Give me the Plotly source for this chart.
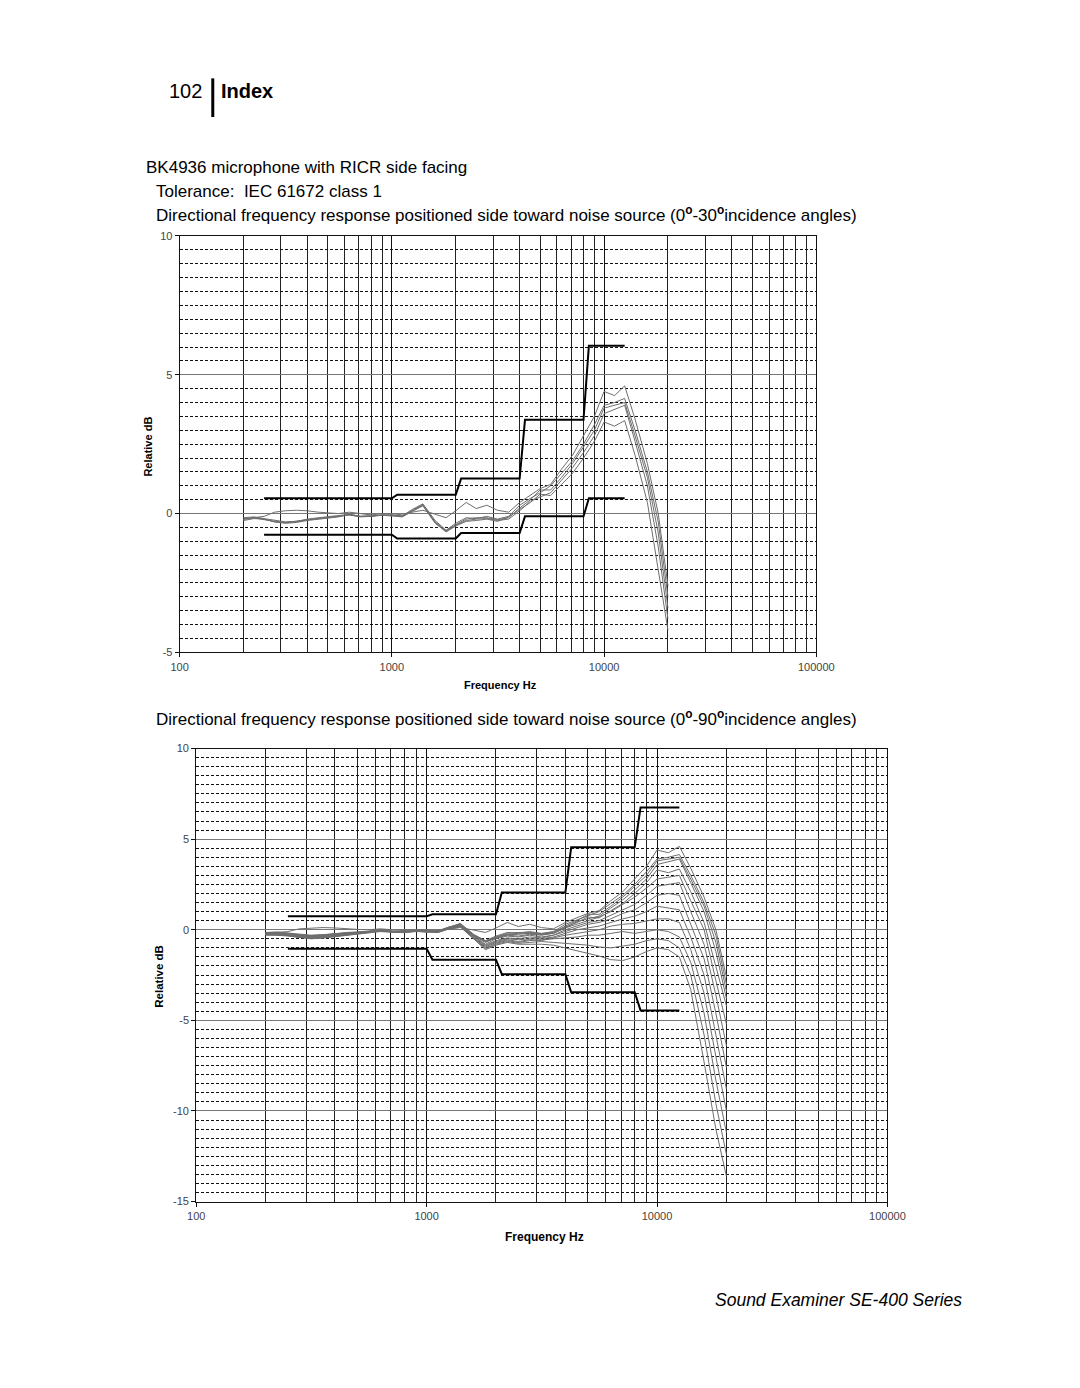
import plotly.graph_objects as go

# ---- data -------------------------------------------------------------
freq_hz = [200, 224, 250, 280, 315, 355, 400, 450, 500, 560, 630, 710, 800, 900,
           1000, 1120, 1250, 1400, 1600, 1800, 2000, 2240, 2500, 2800, 3150,
           3550, 4000, 4500, 5000, 5600, 6300, 7100, 8000, 9000, 10000, 11200,
           12500, 14000, 16000, 18000, 20000]

# relative response (dB) per incidence angle
resp_0 = [-0.2, -0.15, -0.1, 0.05, 0.1, 0.12, 0.1, 0.05, 0.02, 0.0, 0.05, 0.0, -0.05, 0.0, 0.0,
          -0.05, 0.05, 0.12, -0.02, -0.15, 0.1, 0.4, 0.18, 0.3, 0.12,
          0.05, 0.4, 0.65, 0.9, 1.05, 1.6, 2.1, 2.8, 3.5, 4.4, 4.25, 4.6, 3.4, 1.8, 0.0, -2.6]
resp_7 = [-0.25, -0.18, -0.2, -0.3, -0.35, -0.32, -0.25, -0.2, -0.15, -0.12, -0.02, -0.1, -0.08, -0.05, -0.05,
          -0.08, 0.15, 0.35, -0.25, -0.6, -0.35, -0.15, -0.18, -0.1, -0.2,
          -0.1, 0.3, 0.55, 0.75, 1.0, 1.45, 1.9, 2.5, 3.2, 3.9, 4.0, 4.15, 3.0, 1.5, -0.3, -3.0]
resp_15 = [-0.2, -0.15, -0.22, -0.28, -0.33, -0.3, -0.22, -0.18, -0.15, -0.1, -0.05, -0.12, -0.1, -0.04, -0.06,
           -0.1, 0.12, 0.33, -0.3, -0.62, -0.4, -0.2, -0.15, -0.15, -0.22,
           -0.15, 0.2, 0.5, 0.85, 0.85, 1.3, 1.8, 2.4, 3.0, 3.8, 3.9, 4.0, 2.8, 1.3, -0.7, -3.4]
resp_22 = [-0.15, -0.12, -0.18, -0.25, -0.3, -0.28, -0.2, -0.15, -0.12, -0.08, -0.03, -0.1, -0.08, -0.05, -0.05,
           -0.1, 0.1, 0.3, -0.32, -0.65, -0.42, -0.25, -0.2, -0.18, -0.25,
           -0.2, 0.1, 0.45, 0.6, 0.75, 1.2, 1.65, 2.2, 2.8, 3.6, 3.75, 3.9, 2.6, 1.0, -1.2, -3.8]
resp_30 = [-0.2, -0.15, -0.2, -0.3, -0.32, -0.28, -0.22, -0.18, -0.14, -0.1, -0.05, -0.1, -0.1, -0.06, -0.08,
           -0.12, 0.08, 0.28, -0.35, -0.66, -0.45, -0.28, -0.25, -0.2, -0.28,
           -0.12, 0.15, 0.4, 0.7, 0.65, 1.05, 1.45, 2.0, 2.6, 3.3, 3.15, 3.35, 2.1, 0.4, -2.1, -4.2]
resp_37 = [-0.22, -0.2, -0.25, -0.35, -0.4, -0.35, -0.28, -0.22, -0.15, -0.1, 0.0, -0.08, -0.1, -0.05, -0.08,
           -0.1, 0.15, 0.3, -0.3, -0.7, -0.45, -0.3, -0.35, -0.25, -0.3,
           -0.2, 0.1, 0.3, 0.5, 0.7, 1.0, 1.4, 1.8, 2.3, 2.8, 2.9, 3.0, 1.6, 0.0, -2.8, -5.2]
resp_45 = [-0.25, -0.22, -0.28, -0.38, -0.42, -0.36, -0.3, -0.22, -0.16, -0.12, -0.02, -0.1, -0.1, -0.06, -0.1,
           -0.1, 0.1, 0.3, -0.35, -0.8, -0.5, -0.35, -0.4, -0.3, -0.4,
           -0.3, 0.0, 0.2, 0.4, 0.5, 0.8, 1.1, 1.4, 1.9, 2.4, 2.5, 2.6, 1.0, -0.8, -3.6, -6.4]
resp_52 = [-0.2, -0.2, -0.25, -0.35, -0.4, -0.38, -0.3, -0.25, -0.18, -0.12, -0.04, -0.1, -0.12, -0.05, -0.1,
           -0.05, 0.15, 0.25, -0.35, -0.85, -0.6, -0.45, -0.5, -0.4, -0.45,
           -0.3, -0.1, 0.1, 0.3, 0.4, 0.6, 0.9, 1.1, 1.5, 1.9, 2.0, 1.9, 0.3, -1.6, -4.6, -7.6]
resp_60 = [-0.18, -0.2, -0.22, -0.32, -0.38, -0.35, -0.28, -0.22, -0.16, -0.1, -0.02, -0.08, -0.1, -0.04, -0.08,
           -0.1, 0.1, 0.25, -0.4, -0.9, -0.65, -0.5, -0.55, -0.5, -0.5,
           -0.4, -0.2, 0.0, 0.1, 0.2, 0.4, 0.6, 0.75, 1.0, 1.3, 1.2, 1.1, -0.4, -2.5, -5.8, -8.8]
resp_67 = [-0.25, -0.25, -0.3, -0.4, -0.45, -0.4, -0.32, -0.26, -0.2, -0.14, -0.05, -0.12, -0.12, -0.06, -0.1,
           -0.1, 0.1, 0.2, -0.45, -0.95, -0.7, -0.55, -0.65, -0.55, -0.6,
           -0.45, -0.3, -0.2, -0.1, 0.0, 0.2, 0.3, 0.35, 0.5, 0.6, 0.6, 0.4, -1.1, -3.5, -7.0, -10.0]
resp_75 = [-0.22, -0.25, -0.28, -0.38, -0.44, -0.42, -0.34, -0.28, -0.2, -0.15, -0.06, -0.1, -0.14, -0.08, -0.12,
           -0.15, 0.05, 0.2, -0.45, -1.0, -0.75, -0.6, -0.7, -0.6, -0.55,
           -0.5, -0.45, -0.4, -0.3, -0.3, -0.2, -0.1, -0.2, -0.1, 0.0, -0.1, -0.4, -1.8, -4.6, -8.3, -11.2]
resp_82 = [-0.28, -0.28, -0.32, -0.42, -0.48, -0.44, -0.36, -0.3, -0.22, -0.16, -0.08, -0.12, -0.14, -0.08, -0.12,
           -0.1, 0.1, 0.2, -0.5, -1.05, -0.8, -0.65, -0.75, -0.7, -0.65,
           -0.7, -0.75, -0.8, -0.85, -0.95, -1.0, -0.9, -0.8, -0.6, -0.5, -0.6, -1.0, -2.5, -5.8, -9.6, -12.4]
resp_90 = [-0.3, -0.3, -0.35, -0.44, -0.5, -0.46, -0.38, -0.32, -0.24, -0.18, -0.1, -0.14, -0.16, -0.1, -0.14,
           -0.15, 0.05, 0.15, -0.5, -1.1, -0.85, -0.7, -0.8, -0.8, -0.8,
           -0.85, -1.0, -1.15, -1.3, -1.45, -1.65, -1.7, -1.5, -1.2, -1.0, -1.1, -1.5, -3.3, -7.3, -11.0, -13.6]

curves_0_30 = [resp_0, resp_7, resp_15, resp_22, resp_30]
curves_0_90 = curves_0_30 + [resp_37, resp_45, resp_52, resp_60, resp_67, resp_75, resp_82, resp_90]

# tolerance bands (IEC 61672 class 1)
tol_edges = [250, 1000, 2000, 4000, 8000, 12500]
tol30_upper = [0.55, 0.68, 1.26, 3.38, 6.05]
tol30_lower = [-0.76, -0.9, -0.7, -0.1, 0.55]
tol90_upper = [0.75, 0.85, 2.05, 4.55, 6.75]
tol90_lower = [-1.05, -1.65, -2.45, -3.45, -4.45]

x_ticks = [100, 1000, 10000, 100000]
x_minor = [m * d for d in (100, 1000, 10000) for m in range(2, 10)]
y_ticks_top = [-5, 0, 5, 10]
y_ticks_bot = [-15, -10, -5, 0, 5, 10]

# ---- layout helpers ------------------------------------------------------
W, H = 1080, 1388


def px(x, y):
    return x / W, 1 - y / H


def step_line(edges, levels):
    xs, ys = [edges[0]], [levels[0]]
    for i in range(1, len(levels)):
        xs += [edges[i], edges[i] * 1.06]
        ys += [levels[i - 1], levels[i]]
    xs.append(edges[-1])
    ys.append(levels[-1])
    return xs, ys


FONT = "Liberation Sans, Arial, sans-serif"
fig = go.Figure()

for xa, ya, curves, up, lo in (("x", "y", curves_0_30, tol30_upper, tol30_lower),
                               ("x2", "y2", curves_0_90, tol90_upper, tol90_lower)):
    for c in curves:
        fig.add_trace(go.Scatter(x=freq_hz, y=c, mode="lines", xaxis=xa, yaxis=ya,
                                 line=dict(color="#6e6e6e", width=1), showlegend=False,
                                 hoverinfo="skip"))
    for lv in (up, lo):
        tx, ty = step_line(tol_edges, lv)
        fig.add_trace(go.Scatter(x=tx, y=ty, mode="lines", xaxis=xa, yaxis=ya,
                                 line=dict(color="black", width=2), showlegend=False,
                                 hoverinfo="skip"))

# plot areas (page pixels)
top_l, top_b = px(175, 652)
top_r, top_t = px(828, 232)
bot_l, bot_b = px(192, 1206)
bot_r, bot_t = px(901, 749)

xcommon = dict(type="log", range=[2, 5], tickvals=x_ticks, ticktext=[str(v) for v in x_ticks],
               showgrid=True, gridcolor="#111", gridwidth=1, showline=True, linecolor="#111",
               mirror=True, ticks="outside", ticklen=4, tickcolor="#111",
               tickfont=dict(family=FONT, size=11, color="#444"), zeroline=False,
               minor=dict(tickvals=x_minor, showgrid=True, gridcolor="#222", gridwidth=1,
                          ticks=""))
ycommon = dict(showgrid=True, gridcolor="#777", gridwidth=1, showline=True,
               linecolor="#111", mirror=True, ticks="outside", ticklen=4, tickcolor="#111",
               tickfont=dict(family=FONT, size=11, color="#444"), zeroline=False,
               minor=dict(dtick=0.5, showgrid=True, gridcolor="#111", griddash="3px,2px",
                          gridwidth=1, ticks=""))

fig.update_layout(
    width=W, height=H, margin=dict(l=0, r=0, t=0, b=0),
    paper_bgcolor="white", plot_bgcolor="white",
    xaxis=dict(xcommon, domain=[top_l, top_r], anchor="y"),
    yaxis=dict(ycommon, domain=[top_b, top_t], range=[-5, 10], anchor="x",
               tickvals=y_ticks_top, ticktext=[str(v) for v in y_ticks_top]),
    xaxis2=dict(xcommon, domain=[bot_l, bot_r], anchor="y2"),
    yaxis2=dict(ycommon, domain=[bot_b, bot_t], range=[-15, 10], anchor="x2",
                tickvals=y_ticks_bot, ticktext=[str(v) for v in y_ticks_bot]),
)

anns = []


def text(x, y, s, size, xanchor="left", bold=False, italic=False, angle=0):
    ax, ay = px(x, y)
    anns.append(dict(x=ax, y=ay, xref="paper", yref="paper", text=s, showarrow=False,
                     xanchor=xanchor, yanchor="middle", textangle=angle,
                     font=dict(family=FONT, size=size, color="black",
                               weight="bold" if bold else "normal",
                               style="italic" if italic else "normal")))


text(200, 86, "102", 20, xanchor="right")
text(215, 86, "Index", 20, bold=True)
text(138, 163, "BK4936 microphone with RICR side facing", 17)
text(149, 187, "Tolerance:\u00a0 IEC 61672 class 1", 17)
text(149, 210, "Directional frequency response positioned side toward noise source "
     "(0<sup><b>o</b></sup>-30<sup><b>o</b></sup>incidence angles)", 17)
text(149, 718, "Directional frequency response positioned side toward noise source "
     "(0<sup><b>o</b></sup>-90<sup><b>o</b></sup>incidence angles)", 17)
text(143, 444, "Relative dB", 11, xanchor="center", bold=True, angle=-90)
text(504, 685, "Frequency Hz", 11, xanchor="center", bold=True)
text(153, 979, "Relative dB", 11.5, xanchor="center", bold=True, angle=-90)
text(549, 1242, "Frequency Hz", 12, xanchor="center", bold=True)
text(979, 1305, "Sound Examiner SE-400 Series", 17.5, xanchor="right", italic=True)

bx0, by0 = px(209, 73)
bx1, by1 = px(209, 112)
fig.update_layout(annotations=anns,
                  shapes=[dict(type="line", xref="paper", yref="paper", x0=bx0, y0=by0,
                               x1=bx1, y1=by1, line=dict(color="black", width=3))])

fig.write_html("out.html", config={"displayModeBar": False},
               post_script="document.body.style.margin='0';document.body.style.overflow='hidden';")
